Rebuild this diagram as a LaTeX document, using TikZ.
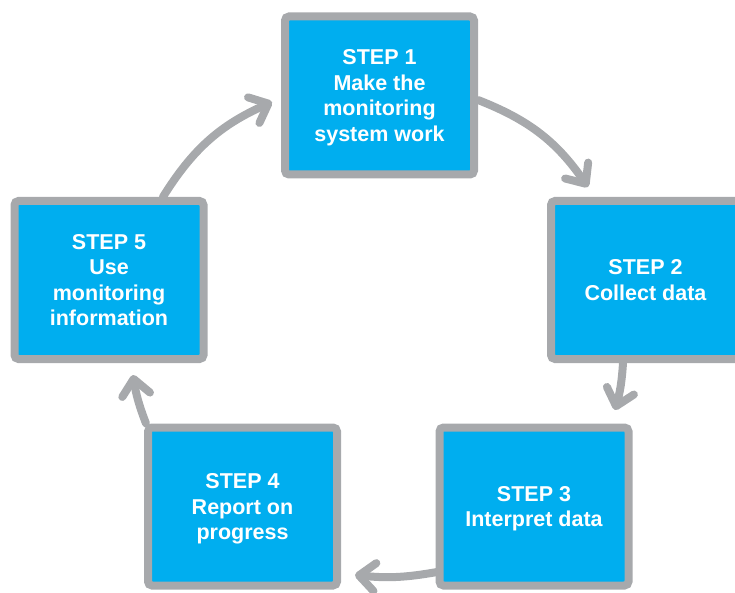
\documentclass[tikz,border=0pt]{standalone}
\usepackage{fontspec}
\setmainfont{Liberation Sans}
\usetikzlibrary{arrows.meta,calc}
\definecolor{boxblue}{HTML}{00AEEF}
\definecolor{boxgrey}{HTML}{A7A9AC}
\begin{document}
\begin{tikzpicture}[x=1pt,y=1pt,
  stepbox/.style={draw=boxgrey, line width=8pt, fill=boxblue, rounded corners=4pt,
    minimum width=189pt, minimum height=158pt, inner sep=0pt, align=center,
    text=white, text depth=0pt, font=\fontsize{21.5}{25.5}\selectfont\bfseries},
  cyc/.style={draw=boxgrey, line width=8pt, line cap=round,
    -{Straight Barb[length=16pt,width=28pt,round]}}]
\useasboundingbox (0,0) rectangle (735,592);
\node[stepbox] (s1) at (379.5,496.5) {STEP 1\\Make the\\monitoring\\system work};
\node[stepbox] (s2) at (645.5,312) {STEP 2\\Collect data};
\node[stepbox] (s3) at (534,85.5) {STEP 3\\Interpret data};
\node[stepbox] (s4) at (242.5,85.5) {STEP 4\\Report on\\progress};
\node[stepbox] (s5) at (109,312) {STEP 5\\Use\\monitoring\\information};
\draw[cyc] (s5.57) to[bend left=17] ([shift={(-9,-6.5)}]s1.west);
\draw[cyc] ([yshift=-4.5]s1.east) to[bend left=17] ([shift={(-57.5,10)}]s2.north);
\draw[cyc] ([xshift=-22.5]s2.south) to[bend left=6] ([shift={(81,13.5)}]s3.north);
\draw[cyc] ([shift={(1.5,-65.5)}]s3.west) to[bend left=8] ([shift={(14,-68.5)}]s4.east);
\draw[cyc] ([xshift=2]s4.north west) to[bend left=6] ([shift={(24,-12)}]s5.south);
\end{tikzpicture}
\end{document}
